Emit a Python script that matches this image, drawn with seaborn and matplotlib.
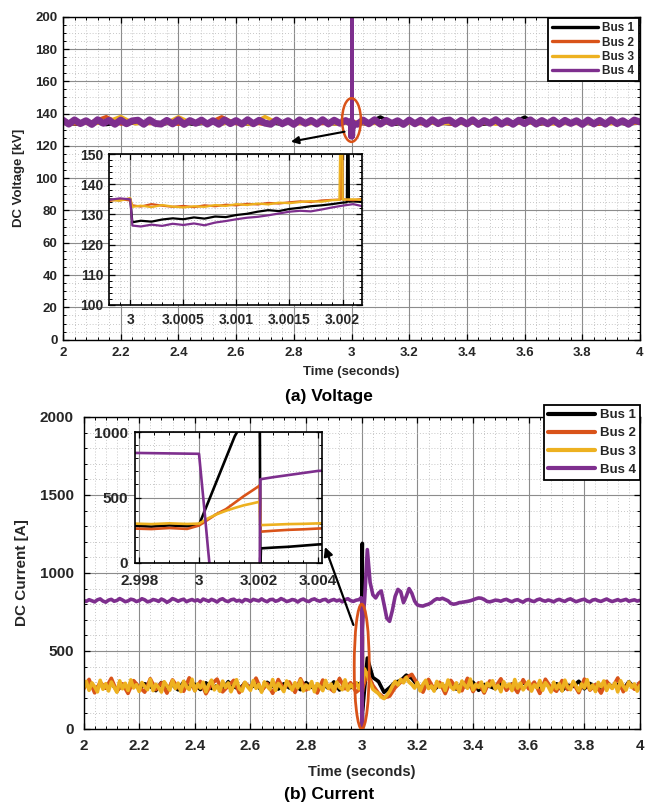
import numpy as np
import pandas as pd
import matplotlib
matplotlib.use("Agg")
import matplotlib.pyplot as plt
from matplotlib.ticker import MultipleLocator, FuncFormatter
from matplotlib.patches import Ellipse
import seaborn as sns

# ---------------------------------------------------------------- data
BUSES = ["Bus 1", "Bus 2", "Bus 3", "Bus 4"]
COLORS = ["#000000", "#D95319", "#EDB120", "#7E2F8E"]

# ---- voltage [kV], coarse samples 2..4 s
V_T_A = np.round(np.linspace(2.0, 4.0, 101), 4)      # Bus 4 sample times
V_T_B = np.round(np.linspace(2.0, 4.0, 41), 4)       # Bus 1-3 sample times
V_BUS4 = [135.9, 133.5, 136.1, 133.8, 135.6, 133.3, 136.2, 134.0, 135.8, 133.4,
          136.0, 133.7, 135.5, 135.9, 133.4, 136.1, 133.9, 133.5, 135.8, 133.6,
          136.2, 133.3, 135.7, 134.0, 136.0, 133.5, 135.6, 133.4, 136.1, 133.8,
          135.7, 133.5, 136.2, 133.7, 135.9, 134.1, 133.4, 136.0, 133.7, 135.6,
          133.3, 136.1, 133.9, 135.8, 133.5, 136.2, 133.6, 135.9, 134.0, 135.7,
          134.5,
          133.4, 136.0, 133.7, 136.2, 133.5, 135.8, 133.9, 135.6, 133.3,
          136.0, 133.7, 135.9, 133.4, 136.2, 133.8, 135.6, 136.0, 133.5, 135.8,
          133.6, 136.1, 133.3, 135.7, 134.0, 136.2, 133.5, 135.6, 133.4, 135.9,
          133.8, 136.1, 133.5, 135.7, 133.7, 136.0, 133.4, 135.8, 133.9, 135.6,
          133.3, 136.0, 133.6, 135.8, 133.5, 136.2, 133.8, 135.6, 133.4, 136.0,
          134.8]
V_BUS1 = [134.0, 133.5, 134.8, 133.2, 134.6, 133.9, 134.3, 133.6, 134.9, 133.4,
          134.1, 133.8, 134.5, 133.3, 134.7, 133.6, 134.2, 133.9, 134.4, 133.5,
          134.6,
          133.7, 137.9, 133.4, 134.5, 133.9, 134.1, 133.6, 134.8, 133.3, 134.3,
          133.8, 137.8, 133.5, 134.6, 133.9, 134.2, 133.4, 134.7, 133.6, 134.1]
V_BUS2 = [134.3, 133.6, 134.9, 138.1, 133.5, 134.6, 133.8, 134.2, 133.4, 134.7,
          133.9, 138.0, 133.7, 134.5, 133.3, 134.8, 133.6, 134.1, 133.8, 134.4,
          134.5,
          133.5, 134.7, 133.9, 134.2, 133.6, 134.6, 133.4, 134.8, 133.8, 134.3,
          133.5, 134.9, 133.7, 134.1, 133.9, 134.5, 133.3, 134.6, 133.8, 134.2]
V_BUS3 = [133.8, 134.6, 133.4, 134.9, 138.2, 133.7, 134.3, 133.5, 138.0, 133.9,
          134.5, 133.6, 134.8, 133.3, 138.1, 133.8, 134.2, 133.6, 134.7, 133.4,
          134.5,
          134.1, 133.7, 134.5, 133.9, 134.8, 133.5, 134.3, 133.6, 134.9, 133.4,
          134.2, 133.8, 134.6, 133.5, 134.0, 133.7, 134.4, 133.6, 134.8, 134.1]

# ---- voltage, detail around the fault (inset window)
V_FINE_T = [2.9997, 2.9998, 2.9999, 3.0000, 3.00002, 3.0001, 3.0002, 3.0003, 3.0004,
            3.0005, 3.0006, 3.0007, 3.0008, 3.0009, 3.0010, 3.0011, 3.0012, 3.0013,
            3.0014, 3.0015, 3.0016, 3.0017, 3.0018, 3.0019, 3.0020, 3.0021, 3.0022]
V_FINE_BUS1 = [134.6, 135.0, 134.7, 135.2, 127.4, 127.9, 127.6, 128.3, 128.7,
               128.4, 129.0, 128.6, 129.3, 129.1, 129.8, 130.2, 130.9, 131.4,
               131.1, 131.8, 132.2, 132.7, 133.0, 133.4, 133.9, 134.3, 134.1]
V_FINE_BUS2 = [134.9, 134.4, 135.1, 134.6, 133.0, 132.6, 133.4, 132.9, 132.5,
               132.8, 132.4, 133.0, 132.7, 133.2, 133.0, 133.5, 133.3, 133.8,
               133.6, 134.0, 134.3, 134.1, 134.6, 134.8, 135.0, 134.7, 135.2]
V_FINE_BUS3 = [134.2, 134.8, 134.5, 135.4, 132.5, 132.9, 132.4, 133.1, 132.6,
               132.3, 132.7, 132.5, 133.1, 132.8, 133.4, 133.1, 133.6, 133.3,
               133.9, 133.7, 134.1, 134.4, 134.2, 134.7, 134.9, 135.0, 134.8]
V_FINE_BUS4 = [133.6, 134.8, 135.3, 135.0, 126.3, 126.0, 126.6, 126.2, 126.9,
               126.5, 127.0, 126.4, 127.3, 127.8, 128.4, 128.9, 129.2, 129.7,
               130.3, 130.9, 131.2, 131.0, 131.6, 132.3, 132.9, 133.4, 132.6]
# voltage spikes (time, value)
V_SPIKE_T = {"Bus 1": [3.00204, 3.00205, 3.00206], "Bus 2": [3.00198, 3.00199, 3.00200],
             "Bus 3": [3.00197, 3.00199, 3.00201], "Bus 4": [3.00228, 3.00230, 3.00232]}
V_SPIKE_V = {"Bus 1": [134.0, 190.0, 134.2], "Bus 2": [134.9, 185.0, 135.0],
             "Bus 3": [134.8, 185.0, 134.9], "Bus 4": [133.0, 260.0, 133.5]}

# ---- current [A], coarse samples 2..4 s
I_T_A = np.round(np.linspace(2.0, 4.0, 201), 4)      # Bus 3, Bus 4
I_T_B = np.round(np.linspace(2.0, 4.0, 101), 4)      # Bus 1, Bus 2
I_BUS4 = [825, 818, 829, 822, 815, 828, 834, 820, 813, 826,
          831, 819, 824, 836, 827, 816, 821, 832, 828, 817,
          823, 835, 828, 815, 820, 830, 826, 818, 833, 825,
          812, 822, 836, 829, 819, 827, 832, 816, 824, 830,
          821, 828, 816, 833, 826, 819, 831, 824, 814, 829,
          835, 822, 817, 828, 832, 820, 825, 815, 830, 827,
          818, 831, 826, 821, 834, 823, 816, 829, 831, 819,
          824, 836, 828, 817, 822, 830, 826, 814, 827, 833,
          822, 817, 829, 834, 824, 819, 828, 831, 816, 825,
          830, 821, 827, 815, 829, 835, 823, 818, 826, 829,
          830, 820, 1150, 940, 860, 840, 870, 885, 800, 710,
          690, 760, 850, 895, 880, 810, 850, 900, 870, 820,
          795, 790, 788, 795, 800, 810, 825, 835, 832, 838,
          830, 822, 805, 800, 803, 810, 812, 815, 818, 822,
          828, 835, 840, 838, 830, 818, 815, 820, 826, 824,
          819, 827, 831, 822, 816, 825, 829, 820, 813, 826,
          830, 821, 817, 828, 833, 824, 819, 827, 822, 815,
          826, 831, 823, 818, 829, 834, 825, 816, 822, 828,
          832, 820, 815, 827, 830, 822, 818, 826, 833, 824,
          817, 823, 829, 821, 826, 831, 819, 824, 828, 820,
          825]
I_BUS3 = [262, 305, 248, 296, 271, 238, 312, 255, 290, 244,
          301, 268, 236, 309, 258, 293, 247, 315, 263, 284,
          241, 298, 273, 252, 318, 246, 287, 265, 237, 303,
          276, 249, 311, 259, 294, 240, 306, 270, 253, 319,
          245, 289, 262, 300, 238, 284, 313, 251, 278, 242,
          307, 266, 295, 239, 281, 316, 257, 243, 299, 270,
          248, 310, 261, 286, 236, 302, 274, 254, 317, 247,
          292, 268, 240, 308, 279, 250, 297, 263, 314, 244,
          283, 256, 304, 239, 291, 272, 246, 311, 260, 288,
          242, 301, 267, 252, 315, 249, 285, 264, 296, 258,
          300, 385, 345, 300, 255, 240, 228, 205, 195, 215,
          240, 275, 305, 282, 318, 296, 331, 300, 285, 262,
          298, 244, 287, 312, 259, 276, 243, 305, 268, 291,
          247, 314, 272, 253, 296, 238, 307, 281, 261, 320,
          250, 286, 267, 301, 241, 293, 275, 309, 256, 280,
          239, 303, 270, 288, 246, 317, 262, 294, 251, 278,
          306, 243, 284, 265, 311, 248, 297, 273, 237, 300,
          258, 290, 244, 313, 269, 252, 305, 277, 245, 289,
          263, 316, 254, 282, 240, 299, 271, 308, 247, 286,
          260, 295, 238, 310, 274, 250, 302, 266, 289, 243,
          280]
I_BUS2 = [255, 318, 232, 300, 262, 325, 240, 290, 228, 310,
          270, 236, 322, 252, 296, 230, 315, 265, 242, 328,
          246, 305, 226, 288, 320, 238, 275, 312, 233, 298,
          260, 326, 244, 292, 229, 317, 256, 302, 235, 322,
          250, 290, 231, 314, 268, 240, 324, 258, 297, 236,
          280,
          360, 280, 230, 200, 210, 265, 300, 330, 350,
          290, 236, 318, 255, 300, 227, 312, 262, 245, 325,
          240, 296, 231, 308, 268, 322, 248, 287, 234, 316,
          257, 301, 228, 319, 266, 242, 311, 253, 294, 233,
          320, 249, 285, 230, 306, 262, 327, 239, 298, 255,
          300]
I_BUS1 = [270, 300, 250, 285, 262, 295, 248, 281, 266, 305,
          255, 290, 272, 246, 298, 264, 283, 251, 301, 268,
          287, 253, 296, 260, 278, 249, 303, 270, 258, 292,
          266, 284, 247, 299, 275, 256, 290, 263, 281, 252,
          297, 268, 254, 289, 261, 302, 250, 279, 265, 293,
          290,
          455, 330, 305, 235, 265, 300, 310, 345, 325,
          280, 262, 298, 251, 286, 270, 304, 256, 291, 266,
          300, 248, 284, 273, 259, 295, 264, 288, 252, 302,
          269, 283, 255, 297, 261, 290, 247, 281, 274, 306,
          258, 292, 266, 250, 299, 271, 286, 254, 303, 262,
          285]

# ---- current, detail around the fault (inset window)
I_FINE_T = {
    "Bus 1": [2.9978, 2.9984, 2.9990, 2.9996, 3.0000, 3.0003, 3.0006, 3.0009, 3.0012, 3.0015,
              3.0018, 3.00204, 3.00206, 3.00208, 3.0025, 3.0030, 3.0035, 3.0040, 3.0042],
    "Bus 2": [2.9978, 2.9984, 2.9990, 2.9996, 3.0000, 3.0003, 3.0006, 3.0009, 3.0012, 3.0015,
              3.0018, 3.00204, 3.00206, 3.0025, 3.0030, 3.0035, 3.0040, 3.0042],
    "Bus 3": [2.9978, 2.9984, 2.9990, 2.9996, 3.0000, 3.0003, 3.0006, 3.0009, 3.0012, 3.0015,
              3.0018, 3.00204, 3.00206, 3.0025, 3.0030, 3.0035, 3.0040, 3.0042],
    "Bus 4": [2.9978, 2.9984, 2.9990, 2.9996, 3.0000, 3.0001, 3.0002, 3.0003, 3.00036, 3.0010,
              3.0016, 3.00204, 3.00206, 3.0025, 3.0030, 3.0035, 3.0040, 3.0042],
}
I_FINE_V = {
    "Bus 1": [283, 277, 286, 280, 290, 460, 630, 800, 970, 1090,
              1160, 1190, -30, 110, 116, 122, 131, 140, 142],
    "Bus 2": [262, 258, 266, 259, 285, 330, 375, 410, 460, 510,
              555, 592, 238, 245, 252, 256, 262, 264],
    "Bus 3": [300, 296, 302, 297, 300, 340, 372, 398, 420, 440,
              455, 468, 288, 292, 296, 298, 302, 303],
    "Bus 4": [842, 840, 838, 836, 835, 600, 360, 110, -30, -30,
              -30, -30, 640, 656, 672, 688, 704, 706],
}


def merge(bus, t_coarse, v_coarse, t_fine, v_fine, window):
    t_coarse = np.asarray(t_coarse, float)
    v_coarse = np.asarray(v_coarse, float)
    keep = (t_coarse < window[0]) | (t_coarse > window[1])
    t = np.concatenate([t_coarse[keep], np.asarray(t_fine, float)])
    v = np.concatenate([v_coarse[keep], np.asarray(v_fine, float)])
    o = np.argsort(t, kind="stable")
    return pd.DataFrame({"t": t[o], "v": v[o], "bus": bus})


VW = (2.9996, 3.0025)
v_frames = []
for bus, tc, vc, vf in [("Bus 1", V_T_B, V_BUS1, V_FINE_BUS1),
                        ("Bus 2", V_T_B, V_BUS2, V_FINE_BUS2),
                        ("Bus 3", V_T_B, V_BUS3, V_FINE_BUS3),
                        ("Bus 4", V_T_A, V_BUS4, V_FINE_BUS4)]:
    v_frames.append(merge(bus, tc, vc, list(V_FINE_T) + V_SPIKE_T[bus],
                          list(vf) + V_SPIKE_V[bus], VW))
df_v = pd.concat(v_frames, ignore_index=True)

# Bus 4 spike samples are drawn as a thin trace on top of the thick noise band
is_b4_spike = (df_v["bus"] == "Bus 4") & df_v["t"].isin(V_SPIKE_T["Bus 4"][1:2])
df_v_band = df_v[~is_b4_spike]
df_v_spike = df_v[(df_v["bus"] == "Bus 4") & (df_v["t"] >= 3.0022) & (df_v["t"] <= 3.00232)]

IW = (2.9976, 3.0045)
i_frames = []
for bus, tc, vc in [("Bus 1", I_T_B, I_BUS1), ("Bus 2", I_T_B, I_BUS2),
                    ("Bus 3", I_T_A, I_BUS3), ("Bus 4", I_T_A, I_BUS4)]:
    i_frames.append(merge(bus, tc, vc, I_FINE_T[bus], I_FINE_V[bus], IW))
df_i = pd.concat(i_frames, ignore_index=True)

# ---------------------------------------------------------------- style
sns.set_style("ticks")
plt.rcParams["font.family"] = ["Liberation Sans", "DejaVu Sans"]
plt.rcParams["font.weight"] = "bold"
plt.rcParams["axes.labelweight"] = "bold"

W, H = 645, 808
fig = plt.figure(figsize=(W / 100, H / 100), dpi=100)


def rect(l, t, r, b):
    return [l / W, 1 - b / H, (r - l) / W, (b - t) / H]


fmt = FuncFormatter(lambda v, p: f"{v:.6g}")


def style_axes(ax, xmaj, xmin, ymaj, ymin, fs, lab_col="#262626", padx=3, pady=3):
    ax.xaxis.set_major_locator(MultipleLocator(xmaj))
    ax.xaxis.set_minor_locator(MultipleLocator(xmin))
    ax.yaxis.set_major_locator(MultipleLocator(ymaj))
    ax.yaxis.set_minor_locator(MultipleLocator(ymin))
    ax.xaxis.set_major_formatter(fmt)
    ax.yaxis.set_major_formatter(fmt)
    ax.set_axisbelow(True)
    ax.grid(which="major", color="#8c8c8c", lw=0.8, ls="-")
    ax.grid(which="minor", color="#b5b5b5", lw=0.6, ls=(0, (1, 2.5)))
    ax.tick_params(which="both", direction="in", top=True, right=True, color="black")
    ax.tick_params(which="major", length=4, width=0.9)
    ax.tick_params(which="minor", length=2, width=0.7)
    ax.tick_params(axis="x", labelsize=fs, labelcolor=lab_col, pad=padx)
    ax.tick_params(axis="y", labelsize=fs, labelcolor=lab_col, pad=pady)
    for lab in ax.get_xticklabels() + ax.get_yticklabels():
        lab.set_fontweight("bold")
    for s in ax.spines.values():
        s.set_visible(True)
        s.set_color("black")
        s.set_linewidth(1.0)
    ax.set_facecolor("white")


# ================================================================ (a) Voltage
ax1 = fig.add_axes(rect(63, 16.7, 640, 339.7))
sns.lineplot(data=df_v_band, x="t", y="v", hue="bus", hue_order=BUSES, palette=COLORS,
             estimator=None, sort=True, lw=2.5, ax=ax1, legend=True)
# thicker trace for Bus 4 (top layer) to form the dense band
ax1.get_lines()[3].set_linewidth(5.0)
sns.lineplot(data=df_v_spike, x="t", y="v", hue="bus", palette={"Bus 4": COLORS[3]},
             estimator=None, sort=True, lw=2.4, ax=ax1, legend=False)
ax1.set_xlim(2, 4)
ax1.set_ylim(0, 200)
style_axes(ax1, 0.2, 0.04, 20, 5, 9.5, padx=5, pady=4)
ax1.set_xlabel("Time (seconds)", fontsize=9.5, fontweight="bold")
ax1.set_ylabel("DC Voltage [kV]", fontsize=9.5, fontweight="bold")
ax1.xaxis.set_label_coords(0.5, -0.082)
ax1.yaxis.set_label_coords(-0.066, 0.5)

old = ax1.get_legend()
handles = old.legend_handles
labels = [t.get_text() for t in old.get_texts()]
old.remove()
leg1 = ax1.legend(handles, labels, loc="upper right", bbox_to_anchor=(1.0, 1.0),
                  borderaxespad=0.12, handlelength=3.9, handletextpad=0.35,
                  labelspacing=0.2, borderpad=0.35, fancybox=False, framealpha=1,
                  edgecolor="black", prop={"weight": "bold", "size": 8.5})
leg1.get_frame().set_linewidth(1.3)
for h in leg1.legend_handles:
    h.set_linewidth(2.4)

ax1.add_patch(Ellipse((3.0, 136), 0.065, 27, fill=False, ec="#D95319", lw=1.8, zorder=6))
ax1.annotate("", xy=(2.79, 122.6), xytext=(2.976, 128.8),
             arrowprops=dict(arrowstyle="-|>", color="black", lw=1.5,
                             mutation_scale=11, shrinkA=0, shrinkB=0), zorder=6)

ins1 = fig.add_axes(rect(109, 154, 361.7, 305))
sns.lineplot(data=df_v, x="t", y="v", hue="bus", hue_order=BUSES, palette=COLORS,
             estimator=None, sort=True, lw=1.6, ax=ins1, legend=False)
ins1.set_xlim(2.9998, 3.00218)
ins1.set_ylim(100, 150)
style_axes(ins1, 0.0005, 0.0001, 10, 2, 10, padx=6, pady=4)
ins1.set_xlabel("")
ins1.set_ylabel("")
for s in ins1.spines.values():
    s.set_linewidth(1.2)

fig.text(329 / W, 1 - 396 / H, "(a) Voltage", ha="center", va="center",
         fontsize=12.5, fontweight="bold", color="black")

# ================================================================ (b) Current
ax2 = fig.add_axes(rect(83.5, 417, 640, 729))
sns.lineplot(data=df_i, x="t", y="v", hue="bus", hue_order=BUSES, palette=COLORS,
             estimator=None, sort=True, lw=2.6, ax=ax2, legend=True)
ax2.set_xlim(2, 4)
ax2.set_ylim(0, 2000)
style_axes(ax2, 0.2, 0.04, 500, 100, 11, padx=7, pady=7)
ax2.set_xlabel("Time (seconds)", fontsize=10.5, fontweight="bold")
ax2.set_ylabel("DC Current [A]", fontsize=11, fontweight="bold")
ax2.xaxis.set_label_coords(0.5, -0.115)
ax2.yaxis.set_label_coords(-0.098, 0.5)

old = ax2.get_legend()
handles = old.legend_handles
labels = [t.get_text() for t in old.get_texts()]
old.remove()
leg2 = ax2.legend(handles, labels, loc="upper right", bbox_to_anchor=(640 / W, 1 - 405 / H),
                  bbox_transform=fig.transFigure, borderaxespad=0,
                  handlelength=3.6, handletextpad=0.35, labelspacing=0.45,
                  borderpad=0.3, fancybox=False, framealpha=1, edgecolor="black",
                  prop={"weight": "bold", "size": 9.5})
leg2.get_frame().set_linewidth(1.3)
for h in leg2.legend_handles:
    h.set_linewidth(3.0)

ax2.add_patch(Ellipse((3.0, 400), 0.054, 800, fill=False, ec="#D95319", lw=2.0, zorder=6))
ax2.annotate("", xy=(2.868, 1167), xytext=(2.97, 667),
             arrowprops=dict(arrowstyle="-|>", color="black", lw=1.6,
                             mutation_scale=13, shrinkA=0, shrinkB=0), zorder=6)

ins2 = fig.add_axes(rect(135, 432.3, 322.3, 562.7))
sns.lineplot(data=df_i, x="t", y="v", hue="bus", hue_order=BUSES, palette=COLORS,
             estimator=None, sort=True, lw=1.9, ax=ins2, legend=False)
ins2.set_xlim(2.99785, 3.00414)
ins2.set_ylim(0, 1000)
style_axes(ins2, 0.002, 0.0005, 500, 100, 11, padx=8, pady=5)
ins2.set_xlabel("")
ins2.set_ylabel("")
for s in ins2.spines.values():
    s.set_linewidth(1.2)

fig.text(329 / W, 1 - 795 / H, "(b) Current", ha="center", va="center",
         fontsize=12.5, fontweight="bold", color="black")

fig.savefig("out.png", dpi=100, facecolor="white")
